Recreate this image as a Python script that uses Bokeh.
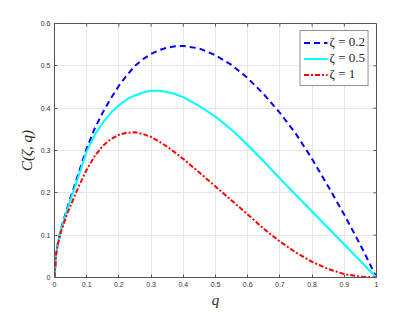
from bokeh.plotting import figure
from bokeh.models import FixedTicker, CustomJSTickFormatter, Legend, LegendItem, Range1d
from bokeh.embed import file_html
from bokeh.resources import INLINE

q = [0, 0.005, 0.01, 0.02, 0.03, 0.04, 0.05, 0.06, 0.075, 0.1, 0.125, 0.15, 0.175,
     0.2, 0.225, 0.25, 0.275, 0.3, 0.325, 0.35, 0.375, 0.4, 0.45, 0.5, 0.55, 0.6,
     0.65, 0.7, 0.75, 0.8, 0.85, 0.9, 0.95, 0.975, 1.0]
c_02 = [0, 0.056, 0.08, 0.114, 0.14, 0.165, 0.19, 0.212, 0.247, 0.305, 0.352, 0.39,
        0.423, 0.453, 0.478, 0.5, 0.516, 0.528, 0.537, 0.543, 0.546, 0.547, 0.541,
        0.525, 0.502, 0.471, 0.433, 0.389, 0.339, 0.28, 0.215, 0.148, 0.077, 0.039, 0]
c_05 = [0, 0.055, 0.079, 0.112, 0.137, 0.161, 0.185, 0.206, 0.24, 0.298, 0.337, 0.366,
        0.389, 0.407, 0.421, 0.43, 0.437, 0.441, 0.441, 0.438, 0.433, 0.426, 0.405,
        0.38, 0.349, 0.313, 0.274, 0.234, 0.195, 0.156, 0.117, 0.078, 0.039, 0.019, 0]
c_1 = [0, 0.054, 0.077, 0.108, 0.13, 0.152, 0.17, 0.188, 0.215, 0.255, 0.287, 0.311,
       0.327, 0.337, 0.342, 0.343, 0.339, 0.332, 0.321, 0.309, 0.295, 0.28, 0.248,
       0.215, 0.182, 0.149, 0.115, 0.085, 0.059, 0.037, 0.02, 0.008, 0.002, 0.0005, 0]
labels = ["ζ = 0.2", "ζ = 0.5", "ζ = 1"]
x_ticks = [0, 0.1, 0.2, 0.3, 0.4, 0.5, 0.6, 0.7, 0.8, 0.9, 1.0]
y_ticks = [0, 0.1, 0.2, 0.3, 0.4, 0.5, 0.6]

AX = "#555555"
FW, FH = 322, 254
X0, X1, Y0, Y1 = 0, 1, 0, 0.6
TICK = 3

fmt = CustomJSTickFormatter(
    code="return tick == 0 ? '0' : (Math.abs(tick-1) < 1e-9 ? '1' : tick.toFixed(1));")

p = figure(frame_width=FW, frame_height=FH, output_backend="svg", toolbar_location=None,
           x_range=Range1d(X0, X1), y_range=Range1d(Y0, Y1),
           min_border_left=54, min_border_right=31, min_border_top=23, min_border_bottom=30,
           x_axis_label="q", y_axis_label="C(ζ, q)")
p.background_fill_color = "white"
p.border_fill_color = "white"
p.outline_line_color = AX
p.outline_line_width = 1

for ax, ticks in ((p.xaxis[0], x_ticks), (p.yaxis[0], y_ticks)):
    ax.ticker = FixedTicker(ticks=ticks)
    ax.formatter = fmt
    ax.major_tick_in = TICK
    ax.major_tick_out = 0
    ax.minor_tick_in = 0
    ax.minor_tick_out = 0
    ax.axis_line_color = AX
    ax.major_tick_line_color = AX
    ax.major_label_text_font = "Liberation Sans"
    ax.major_label_text_font_size = "7px"
    ax.major_label_text_color = "#333333"
    ax.major_label_standoff = 4
    ax.axis_label_text_font = "Liberation Serif"
    ax.axis_label_text_font_style = "italic"
    ax.axis_label_text_font_size = "15px"
    ax.axis_label_text_color = "#262626"
    ax.axis_label_standoff = 3

p.xaxis[0].axis_label_standoff = 2

# inward tick marks on the top and right edges (box on)
dy = TICK * (Y1 - Y0) / FH
dx = TICK * (X1 - X0) / FW
p.segment(x0=x_ticks, y0=[Y1] * len(x_ticks), x1=x_ticks, y1=[Y1 - dy] * len(x_ticks),
          line_color=AX, line_width=1)
p.segment(x0=[X1] * len(y_ticks), y0=y_ticks, x1=[X1 - dx] * len(y_ticks), y1=y_ticks,
          line_color=AX, line_width=1)

p.xgrid.ticker = FixedTicker(ticks=x_ticks)
p.ygrid.ticker = FixedTicker(ticks=y_ticks)
p.xgrid.grid_line_color = "#e6e6e6"
p.ygrid.grid_line_color = "#e6e6e6"

r1 = p.line(q, c_02, line_color="#0000ff", line_width=2, line_dash="6 4")
r2 = p.line(q, c_05, line_color="#00ffff", line_width=2)
r3 = p.line(q, c_1, line_color="#ff0000", line_width=2, line_dash="5 2 2 2")

legend = Legend(items=[LegendItem(label=labels[0], renderers=[r1]),
                       LegendItem(label=labels[1], renderers=[r2]),
                       LegendItem(label=labels[2], renderers=[r3])],
                location="top_right", margin=7, padding=3, spacing=0,
                label_text_font="Liberation Serif", label_text_font_size="13px",
                label_text_color="#262626", label_height=13, glyph_height=13,
                glyph_width=24, label_standoff=2,
                border_line_color="#262626", border_line_width=1,
                background_fill_alpha=1)
p.add_layout(legend, "center")

open("out.html", "w").write(file_html(p, INLINE))
